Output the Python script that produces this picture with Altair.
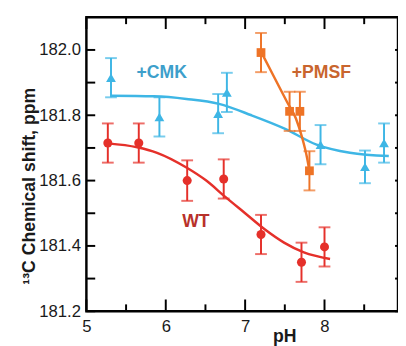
import altair as alt
import pandas as pd

# ---- measured data ----
wt_ph = [5.27, 5.66, 6.27, 6.73, 7.20, 7.71, 8.00]
wt_shift = [181.715, 181.715, 181.600, 181.605, 181.435, 181.350, 181.397]
wt_err = [0.06, 0.06, 0.062, 0.06, 0.06, 0.06, 0.06]

cmk_ph = [5.31, 5.92, 6.66, 6.77, 7.95, 8.51, 8.75]
cmk_shift = [181.915, 181.795, 181.805, 181.870, 181.710, 181.642, 181.715]
cmk_err = [0.06, 0.06, 0.06, 0.06, 0.06, 0.05, 0.06]

pmsf_ph = [7.20, 7.56, 7.69, 7.81]
pmsf_shift = [181.992, 181.812, 181.812, 181.630]
pmsf_err = [0.06, 0.06, 0.06, 0.06]

# fitted curves
wt_fit_ph = [5.27, 5.64, 5.89, 6.26, 6.51, 6.75, 7.00, 7.25, 7.49, 7.74, 8.07]
wt_fit = [181.714, 181.702, 181.685, 181.640, 181.600, 181.550, 181.500, 181.450, 181.410, 181.380, 181.360]
cmk_fit_ph = [5.31, 5.85, 6.26, 6.67, 7.08, 7.49, 7.90, 8.32, 8.81]
cmk_fit = [181.860, 181.858, 181.850, 181.835, 181.800, 181.760, 181.710, 181.685, 181.675]
pmsf_fit_ph = [7.20, 7.37, 7.53, 7.64, 7.72, 7.78, 7.81]
pmsf_fit = [181.995, 181.915, 181.840, 181.790, 181.730, 181.670, 181.630]

# annotations
lab_text = ["+CMK", "+PMSF", "WT"]
lab_ph = [5.95, 7.96, 6.38]
lab_shift = [181.93, 181.93, 181.474]
lab_color = ["#3d9fcb", "#c9652e", "#b8312a"]

# axis ticks
x_major = [5, 6, 7, 8]
x_minor = [5.5, 6.5, 7.5, 8.5]
x_labels = [5, 6, 7, 8, 9]
y_major = [181.2, 181.4, 181.6, 181.8, 182.0]
y_minor = [181.3, 181.5, 181.7, 181.9]

RED = "#e5302a"
BLUE = "#3eb6e5"
ORANGE = "#ee7326"
FONT = "Liberation Sans"

W, H = 318, 300

xs = alt.Scale(domain=[5, 8.926], nice=False, zero=False)
ys = alt.Scale(domain=[181.2, 182.1], nice=False, zero=False)

x_axis = alt.Axis(values=x_labels, format="d", ticks=False, domain=False, grid=False,
                  labelFontSize=17, labelPadding=8, labelColor="#1a1a1a", labelFont=FONT,
                  title="pH", titleFont=FONT, titleFontSize=18, titleFontWeight="bold",
                  titleColor="#1a1a1a", titleX=202, titleY=17, titleBaseline="top",
                  labelFlush=False, labelOverlap=False)
y_axis = alt.Axis(values=y_major, format=".1f", ticks=False, domain=False, grid=False,
                  labelFontSize=17, labelPadding=6, labelColor="#1a1a1a", labelFont=FONT,
                  title="¹³C Chemical shift, ppm", titleFont=FONT, titleFontSize=18,
                  titleFontWeight="bold", titleColor="#1a1a1a", titleX=-58, titleY=172,
                  titleBaseline="middle", labelFlush=False, labelOverlap=False)

X = lambda f: alt.X(f, type="quantitative", scale=xs, axis=x_axis)
Y = lambda f: alt.Y(f, type="quantitative", scale=ys, axis=y_axis)

def pts(ph, sh, er, series):
    return pd.DataFrame({"ph": ph, "shift": sh,
                         "lo": [s - e for s, e in zip(sh, er)],
                         "hi": [s + e for s, e in zip(sh, er)],
                         "series": series})

wt = pts(wt_ph, wt_shift, wt_err, "WT")
cmk = pts(cmk_ph, cmk_shift, cmk_err, "CMK")
pmsf = pts(pmsf_ph, pmsf_shift, pmsf_err, "PMSF")

def fit_line(ph, v, color):
    return alt.Chart(pd.DataFrame({"ph": ph, "v": v})).mark_line(
        color=color, strokeWidth=2.5, interpolate="monotone").encode(x=X("ph"), y=Y("v"))

def series_layers(df, color, shape, size):
    base = alt.Chart(df)
    bars = base.mark_rule(color=color, strokeWidth=2).encode(x=X("ph"), y=Y("lo"), y2="hi")
    cap_lo = base.mark_tick(color=color, thickness=2, size=12, orient="horizontal").encode(x=X("ph"), y=Y("lo"))
    cap_hi = base.mark_tick(color=color, thickness=2, size=12, orient="horizontal").encode(x=X("ph"), y=Y("hi"))
    marks = base.mark_point(shape=shape, filled=True, opacity=1, color=color, size=size).encode(x=X("ph"), y=Y("shift"))
    return [bars, cap_lo, cap_hi, marks]

xmaj = pd.DataFrame({"ph": x_major})
xmin = pd.DataFrame({"ph": x_minor})
ymin = pd.DataFrame({"v": y_minor + y_major})

tick_style = dict(color="black", strokeWidth=2)
ticks = [
    alt.Chart(xmaj).mark_rule(**tick_style).encode(x=X("ph"), y=alt.value(H), y2=alt.value(H - 12)),
    alt.Chart(xmin).mark_rule(**tick_style).encode(x=X("ph"), y=alt.value(H), y2=alt.value(H - 7)),
    alt.Chart(xmaj).mark_rule(**tick_style).encode(x=X("ph"), y=alt.value(0), y2=alt.value(12)),
    alt.Chart(xmin).mark_rule(**tick_style).encode(x=X("ph"), y=alt.value(0), y2=alt.value(7)),
    alt.Chart(ymin).mark_rule(**tick_style).encode(y=Y("v"), x=alt.value(0), x2=alt.value(9)),
    alt.Chart(ymin).mark_rule(**tick_style).encode(y=Y("v"), x=alt.value(W - 3), x2=alt.value(W)),
]

labels = alt.Chart(pd.DataFrame({"t": lab_text, "ph": lab_ph, "v": lab_shift, "c": lab_color})).mark_text(
    font=FONT, fontSize=18, fontWeight="bold", align="center", baseline="middle").encode(
    x=X("ph"), y=Y("v"), text="t:N", color=alt.Color("c:N", scale=None))

layers = ticks + [fit_line(cmk_fit_ph, cmk_fit, BLUE), fit_line(wt_fit_ph, wt_fit, RED)]
layers += series_layers(cmk, BLUE, "triangle-up", 100)
layers += series_layers(wt, RED, "circle", 85)
layers += [fit_line(pmsf_fit_ph, pmsf_fit, ORANGE)]
layers += series_layers(pmsf, ORANGE, "square", 80)
layers += [labels]

chart = alt.layer(*layers).properties(
    width=W, height=H,
    autosize=alt.AutoSizeParams(type="none"),
    padding={"left": 80, "top": 6, "right": 0, "bottom": 32},
    background="white",
).configure_view(stroke="black", strokeWidth=2.5)

chart.save("out.html", embed_options={"renderer": "svg", "actions": False})
